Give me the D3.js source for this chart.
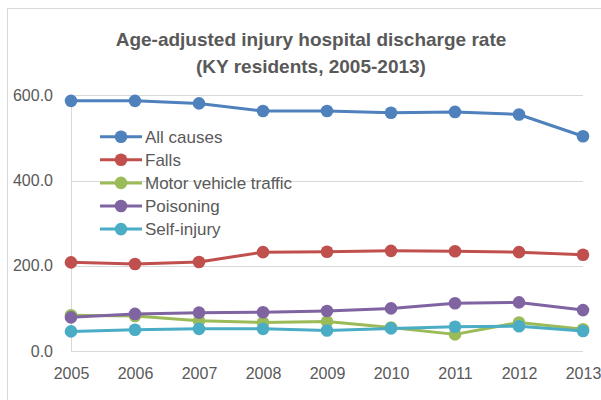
<!DOCTYPE html>
<head>
  <meta charset="utf-8">
  <script src="https://d3js.org/d3.v7.min.js"></script>
  <style>
    body { margin: 0; background: #fff; }
    text { font-family: "Liberation Sans", Arial, sans-serif; fill: #595959; }
  </style>
</head>
<body>
  <svg width="601" height="400"></svg>
  <script>
    // chart data
    const years = [2005, 2006, 2007, 2008, 2009, 2010, 2011, 2012, 2013];
    const allCauses = [587, 587, 581, 563, 563, 559, 561, 555, 504];
    const falls = [208, 204, 209, 232, 233, 235, 234, 232, 226];
    const motorVehicle = [84, 82, 71, 67, 69, 55, 39, 67, 51];
    const poisoning = [79, 87, 90, 91, 94, 100, 112, 114, 96];
    const selfInjury = [46, 50, 52, 52, 48, 53, 57, 58, 47];
    const seriesNames = ['All causes', 'Falls', 'Motor vehicle traffic', 'Poisoning', 'Self-injury'];
    const yTicks = [0, 200, 400, 600];
    const titleLines = ['Age-adjusted injury hospital discharge rate', '(KY residents, 2005-2013)'];

    const colors = ['#4f81bd', '#c0504d', '#9bbb59', '#8064a2', '#4bacc6'];
    const series = [allCauses, falls, motorVehicle, poisoning, selfInjury]
      .map((values, i) => ({ name: seriesNames[i], color: colors[i], values }));

    const svg = d3.select('svg');

    // chart frame (runs off the bottom/right of the picture)
    svg.append('rect')
      .attr('x', 7.5).attr('y', 8.5)
      .attr('width', 640).attr('height', 420)
      .attr('fill', 'none').attr('stroke', '#d9d9d9');

    const x = d3.scalePoint().domain(years).range([71, 583]);
    const y = d3.scaleLinear().domain([0, 600]).range([351, 95.3]);

    // gridlines
    svg.append('g')
      .selectAll('line')
      .data(yTicks)
      .join('line')
        .attr('x1', 71).attr('x2', 583)
        .attr('y1', d => Math.round(y(d)) + 0.5)
        .attr('y2', d => Math.round(y(d)) + 0.5)
        .attr('stroke', '#d9d9d9').attr('stroke-width', 1);

    // y axis line
    svg.append('line')
      .attr('x1', 71.5).attr('x2', 71.5)
      .attr('y1', y(600)).attr('y2', y(0))
      .attr('stroke', '#d9d9d9');

    const yAxis = d3.axisLeft(y).tickValues(yTicks)
      .tickFormat(d3.format('.1f')).tickSize(0).tickPadding(18);
    svg.append('g')
      .attr('transform', 'translate(71,0)')
      .call(yAxis)
      .call(g => g.select('.domain').remove())
      .call(g => g.selectAll('text')
        .style('font-size', '16px')
        .style('font-family', '"Liberation Sans", Arial, sans-serif')
        .attr('fill', '#595959'));

    const xAxis = d3.axisBottom(x).tickSize(0).tickPadding(17);
    svg.append('g')
      .attr('transform', 'translate(0,351)')
      .call(xAxis)
      .call(g => g.select('.domain').remove())
      .call(g => g.selectAll('text')
        .style('font-size', '16px')
        .style('font-family', '"Liberation Sans", Arial, sans-serif')
        .attr('fill', '#595959'));

    // series lines and markers
    const line = d3.line().x((d, i) => x(years[i])).y(d => y(d));
    series.forEach(s => {
      const g = svg.append('g');
      g.append('path')
        .attr('d', line(s.values))
        .attr('fill', 'none')
        .attr('stroke', s.color)
        .attr('stroke-width', 3)
        .attr('stroke-linejoin', 'round');
      g.selectAll('circle')
        .data(s.values)
        .join('circle')
          .attr('cx', (d, i) => x(years[i]))
          .attr('cy', d => y(d))
          .attr('r', 6.3)
          .attr('fill', s.color);
    });

    // title
    svg.append('text')
      .attr('x', 311).attr('y', 46)
      .attr('text-anchor', 'middle')
      .style('font-size', '19px').style('font-weight', 'bold')
      .text(titleLines[0]);
    svg.append('text')
      .attr('x', 311).attr('y', 73)
      .attr('text-anchor', 'middle')
      .style('font-size', '19px').style('font-weight', 'bold')
      .text(titleLines[1]);

    // legend
    const legend = svg.append('g');
    const rows = legend.selectAll('g')
      .data(series)
      .join('g')
        .attr('transform', (d, i) => `translate(100,${136.7 + i * 23.1})`);
    rows.append('line')
      .attr('x1', 0).attr('x2', 42)
      .attr('stroke', d => d.color).attr('stroke-width', 3);
    rows.append('circle')
      .attr('cx', 21).attr('r', 6.3)
      .attr('fill', d => d.color);
    rows.append('text')
      .attr('x', 45).attr('dy', '0.35em')
      .style('font-size', '17px')
      .text(d => d.name);
  </script>
</body>
